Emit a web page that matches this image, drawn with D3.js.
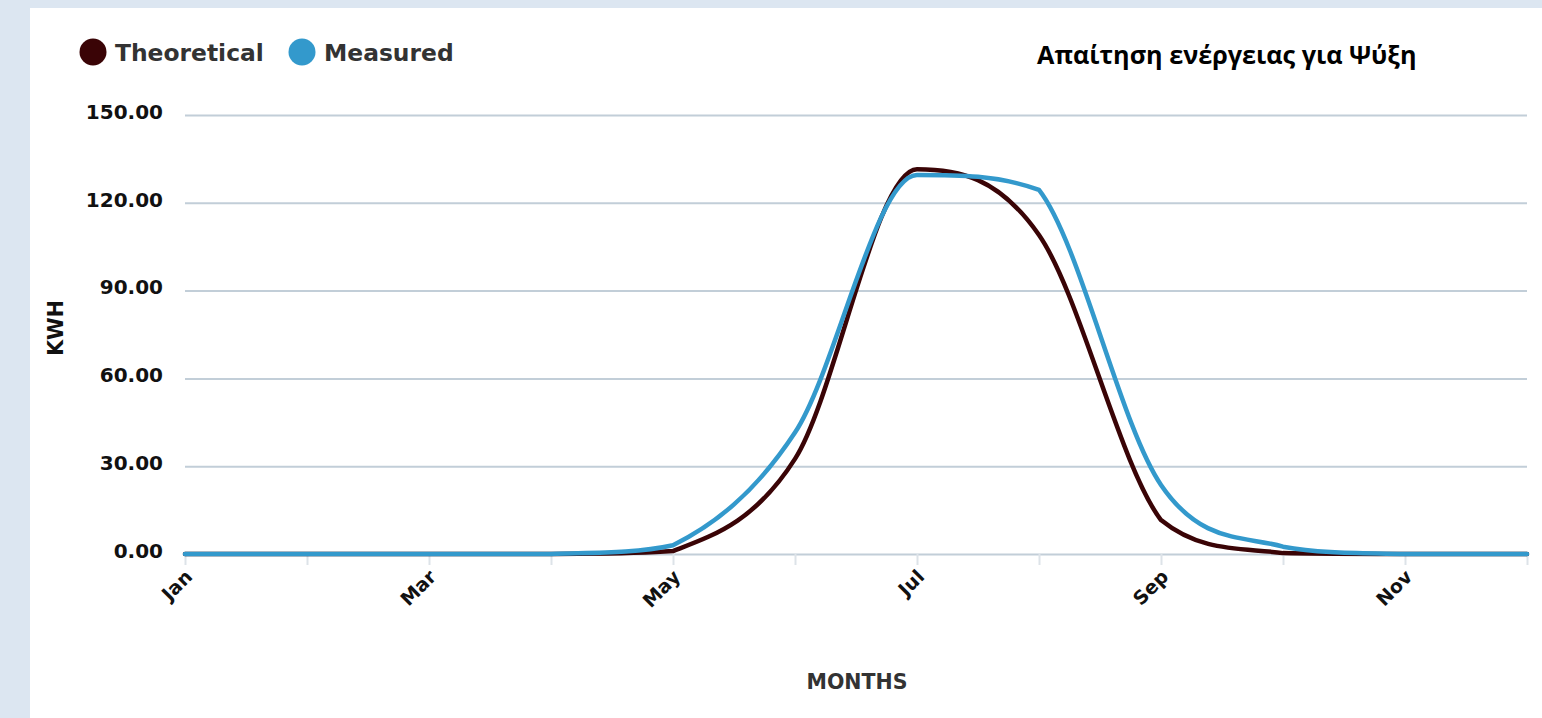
<!DOCTYPE html>
<html><head><meta charset="utf-8">
<script src="https://cdn.jsdelivr.net/npm/d3@7"></script>
<style>
html,body{margin:0;padding:0;background:#dce6f1;}
svg{display:block;}
</style></head>
<body>
<svg id="chart" width="1542" height="718"></svg>
<script>
const months = ['Jan','Feb','Mar','Apr','May','Jun','Jul','Aug','Sep','Oct','Nov','Dec'];
const theoretical = [0,0,0,0,1,32.5,131.5,109,11.6,0.3,0,0];
const measured = [0,0,0,0,3,41.5,129.5,124.4,23.6,2.5,0,0];
const yTicks = [0,30,60,90,120,150];
const seriesNames = ['Theoretical','Measured'];
const seriesColors = ['#3a0406','#3399cc'];
const title = 'Απαίτηση ενέργειας για Ψύξη';

// Smooth line: neighbour-chord tangents, flat at extremes, handle heights kept inside the segment's y-range
function SmoothCurve(context){ this._context = context; }
SmoothCurve.prototype = {
  areaStart(){}, areaEnd(){},
  lineStart(){ this._pts = []; },
  point(x,y){ this._pts.push([+x,+y]); },
  lineEnd(){
    const p = this._pts, c = this._context, n = p.length;
    if(!n) return;
    const L = [], R = [];
    for(let i=0;i<n;i++){
      const [px,py] = p[i];
      if(i===0 || i===n-1){ L[i]=[px,py]; R[i]=[px,py]; continue; }
      const [ax,ay] = p[i-1], [bx,by] = p[i+1];
      const mono = (ay<=py && py<=by) || (ay>=py && py>=by);
      const t = mono ? (by-ay)/(bx-ax) : 0;
      let l = [px-(px-ax)/3, py - t*(px-ax)/3];
      let r = [px+(bx-px)/3, py + t*(bx-px)/3];
      l[1] = Math.max(Math.min(ay,py), Math.min(Math.max(ay,py), l[1]));
      r[1] = Math.max(Math.min(by,py), Math.min(Math.max(by,py), r[1]));
      L[i]=l; R[i]=r;
    }
    R[0] = [p[0][0]+(p[1][0]-p[0][0])/3, p[0][1]+(p[1][1]-p[0][1])/3];
    L[n-1] = [p[n-1][0]-(p[n-1][0]-p[n-2][0])/3, p[n-1][1]-(p[n-1][1]-p[n-2][1])/3];
    c.moveTo(p[0][0],p[0][1]);
    for(let i=1;i<n;i++) c.bezierCurveTo(R[i-1][0],R[i-1][1],L[i][0],L[i][1],p[i][0],p[i][1]);
  }
};
const curveSmooth = ctx => new SmoothCurve(ctx);

const svg = d3.select('#chart');
svg.append('rect').attr('x',0).attr('y',0).attr('width',1542).attr('height',718).attr('fill','#dce6f1');
svg.append('rect').attr('x',30).attr('y',8).attr('width',1512).attr('height',710).attr('fill','#ffffff');

const x = d3.scaleLinear().domain([0,11]).range([185,1527]);
const y = d3.scaleLinear().domain([0,150]).range([554,115]);
const font = '"DejaVu Sans", Verdana, sans-serif';

// grid + y axis
const yAxis = d3.axisLeft(y).tickValues(yTicks).tickSize(-(1527-185)).tickPadding(22).tickFormat(d=>d.toFixed(2));
const gy = svg.append('g').attr('transform','translate(185,0)').call(yAxis);
gy.select('.domain').remove();
gy.selectAll('.tick line').attr('stroke','#c2ced8').attr('stroke-width',2);
gy.selectAll('.tick text').attr('font-family',font).attr('font-weight','bold').attr('font-size','20px').attr('fill','#111')
  .attr('dy','0.16em');

// x axis
const xAxis = d3.axisBottom(x).tickValues(d3.range(12)).tickSize(11).tickFormat((d,i)=> i%2===0 ? months[i] : '');
const gx = svg.append('g').attr('transform','translate(0,554)').call(xAxis);
gx.select('.domain').remove();
gx.selectAll('.tick line').attr('stroke','#dde3e8').attr('stroke-width',2);
gx.selectAll('.tick text').attr('font-family',font).attr('font-weight','bold').attr('font-size','19px').attr('fill','#111')
  .attr('text-anchor','end').attr('x',0).attr('y',0).attr('dy','0').attr('transform','translate(8,24) rotate(-45)');

// lines
const line = d3.line().x((d,i)=>x(i)).y(d=>y(d)).curve(curveSmooth);
[theoretical, measured].forEach((s,k)=>{
  svg.append('path').datum(s).attr('d',line).attr('fill','none')
    .attr('stroke',seriesColors[k]).attr('stroke-width',4.5).attr('stroke-linejoin','round').attr('stroke-linecap','round');
});

// axis titles
svg.append('text').attr('x',857).attr('y',689).attr('text-anchor','middle').attr('font-family',font)
  .attr('font-weight','bold').attr('font-size','20.5px').attr('fill','#333').text('MONTHS');
svg.append('text').attr('transform','translate(63,328) rotate(-90)').attr('text-anchor','middle').attr('font-family',font)
  .attr('font-weight','bold').attr('font-size','20.5px').attr('fill','#111').text('KWH');

// legend
const legX = [93, 302];
seriesNames.forEach((n,k)=>{
  svg.append('circle').attr('cx',legX[k]).attr('cy',52).attr('r',13.5).attr('fill',seriesColors[k]);
  svg.append('text').attr('x',legX[k]+22).attr('y',61).attr('font-family',font).attr('font-weight','bold')
    .attr('font-size','23.4px').attr('fill','#333').text(n);
});

// title
svg.append('text').attr('x',1037).attr('y',64).attr('font-family','"Open Sans", "Liberation Sans", sans-serif')
  .attr('font-weight','bold').attr('font-size','25.2px').attr('fill','#000').text(title);
</script>
</body></html>
